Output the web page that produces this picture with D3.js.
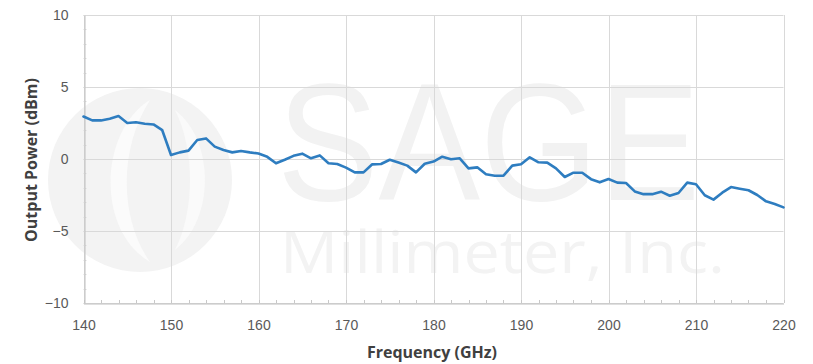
<!DOCTYPE html>
<html>
<head>
<meta charset="utf-8">
<script src="https://cdn.jsdelivr.net/npm/d3@7"></script>
<style>
  html, body { margin: 0; padding: 0; background: #fff; }
  svg { display: block; }
  .tick text { font-family: "Liberation Sans Narrow", "Liberation Sans", Arial, sans-serif; font-size: 14px; fill: #595959; }
  .title { font-family: "Liberation Sans Narrow", "Open Sans", Arial, sans-serif; font-weight: bold; font-size: 16px; fill: #404040; }
</style>
</head>
<body>
<svg id="chart" width="813" height="364"></svg>
<script>
// Measured output power vs. frequency, one point per GHz
const frequencies = d3.range(140, 221, 1);
const outputPower = [
  2.95, 2.68, 2.68, 2.80, 2.98, 2.50, 2.55, 2.45, 2.40, 2.00,
  0.28, 0.46, 0.58, 1.32, 1.43, 0.86, 0.63, 0.46, 0.56, 0.46,
  0.38, 0.15, -0.30, -0.05, 0.22, 0.37, 0.05, 0.25, -0.30, -0.35,
  -0.60, -0.93, -0.93, -0.37, -0.35, -0.05, -0.25, -0.46, -0.93, -0.33,
  -0.18, 0.16, -0.02, 0.05, -0.65, -0.58, -1.06, -1.16, -1.16, -0.46,
  -0.37, 0.12, -0.23, -0.25, -0.65, -1.25, -0.95, -0.95, -1.40, -1.62,
  -1.39, -1.64, -1.67, -2.25, -2.44, -2.44, -2.27, -2.55, -2.36, -1.64,
  -1.75, -2.52, -2.82, -2.34, -1.95, -2.06, -2.17, -2.50, -2.94, -3.13,
  -3.36
];
const xTicks = [140, 150, 160, 170, 180, 190, 200, 210, 220];
const yTicks = [-10, -5, 0, 5, 10];
const xMinorTicks = d3.range(140, 221, 2);
const yMinorTicks = d3.range(-10, 11, 1);

const svg = d3.select("#chart");
const m = { left: 83.5, right: 783.5, top: 15, bottom: 303 };

const x = d3.scaleLinear().domain([140, 220]).range([m.left, m.right]);
const y = d3.scaleLinear().domain([-10, 10]).range([m.bottom, m.top]);

// Faint company watermark behind the plot
const wm = svg.append("g").attr("class", "watermark");
wm.append("circle").attr("cx", 140).attr("cy", 180).attr("r", 92)
  .attr("fill", "#f3f3f3");
wm.append("path")
  .attr("d", "M 150 100 C 100 130, 95 230, 150 262 C 120 220, 118 150, 150 100 Z")
  .attr("fill", "#fbfbfb");
wm.append("path")
  .attr("d", "M 175 110 C 215 140, 215 220, 175 250 C 195 210, 195 150, 175 110 Z")
  .attr("fill", "#fafafa");
wm.append("text").text("SAGE")
  .attr("transform", "translate(277,200) scale(1,1.55)")
  .attr("textLength", 423).attr("lengthAdjust", "spacingAndGlyphs")
  .attr("font-family", "'Liberation Sans', Arial, sans-serif")
  .attr("font-size", 108)
  .attr("fill", "#f2f2f2");
wm.append("text").text("Millimeter, Inc.")
  .attr("x", 280).attr("y", 273)
  .attr("textLength", 445).attr("lengthAdjust", "spacingAndGlyphs")
  .attr("font-family", "'Liberation Sans Narrow', 'Open Sans', Arial, sans-serif")
  .attr("font-size", 58)
  .attr("fill", "#f3f3f3");

// Gridlines
const grid = svg.append("g").attr("class", "grid");
grid.selectAll("line.h").data(yTicks).join("line").attr("class", "h")
  .attr("x1", m.left).attr("x2", m.right)
  .attr("y1", d => Math.round(y(d)) + 0.5).attr("y2", d => Math.round(y(d)) + 0.5)
  .attr("stroke", "#d9d9d9").attr("stroke-width", 1);
grid.selectAll("line.v").data(xTicks).join("line").attr("class", "v")
  .attr("y1", m.top).attr("y2", m.bottom)
  .attr("x1", d => Math.round(x(d)) + 0.5).attr("x2", d => Math.round(x(d)) + 0.5)
  .attr("stroke", "#d9d9d9").attr("stroke-width", 1);

// Minor tick marks along the axes
const minor = svg.append("g").attr("class", "minor");
minor.selectAll("line.xm").data(xMinorTicks).join("line").attr("class", "xm")
  .attr("x1", d => Math.round(x(d)) + 0.5).attr("x2", d => Math.round(x(d)) + 0.5)
  .attr("y1", m.bottom - 3).attr("y2", m.bottom)
  .attr("stroke", "#c8c8c8");
minor.selectAll("line.ym").data(yMinorTicks).join("line").attr("class", "ym")
  .attr("x1", m.left).attr("x2", m.left + 3)
  .attr("y1", d => Math.round(y(d)) + 0.5).attr("y2", d => Math.round(y(d)) + 0.5)
  .attr("stroke", "#dddddd");

// Axes
const xAxis = svg.append("g")
  .attr("transform", `translate(0,${Math.round(y(-10)) + 0.5})`)
  .call(d3.axisBottom(x).tickValues(xTicks).tickSize(0).tickPadding(17).tickFormat(d3.format("d")));
xAxis.select(".domain").attr("stroke", "#bfbfbf");

const yAxis = svg.append("g")
  .attr("transform", `translate(${Math.round(m.left) + 0.5},0)`)
  .call(d3.axisLeft(y).tickValues(yTicks).tickSize(0).tickPadding(16).tickFormat(d3.format("d")));
yAxis.select(".domain").attr("stroke", "#bfbfbf");

// Data line
const line = d3.line()
  .x((d, i) => x(frequencies[i]))
  .y(d => y(d));
svg.append("path")
  .datum(outputPower)
  .attr("d", line)
  .attr("fill", "none")
  .attr("stroke", "#2e7dc0")
  .attr("stroke-width", 2.6)
  .attr("stroke-linejoin", "round")
  .attr("stroke-linecap", "round");

// Axis titles
svg.append("text").attr("class", "title")
  .attr("x", 432).attr("y", 358)
  .attr("text-anchor", "middle")
  .text("Frequency (GHz)");
svg.append("text").attr("class", "title")
  .attr("transform", "translate(37,160) rotate(-90)")
  .attr("text-anchor", "middle")
  .text("Output Power (dBm)");
</script>
</body>
</html>
